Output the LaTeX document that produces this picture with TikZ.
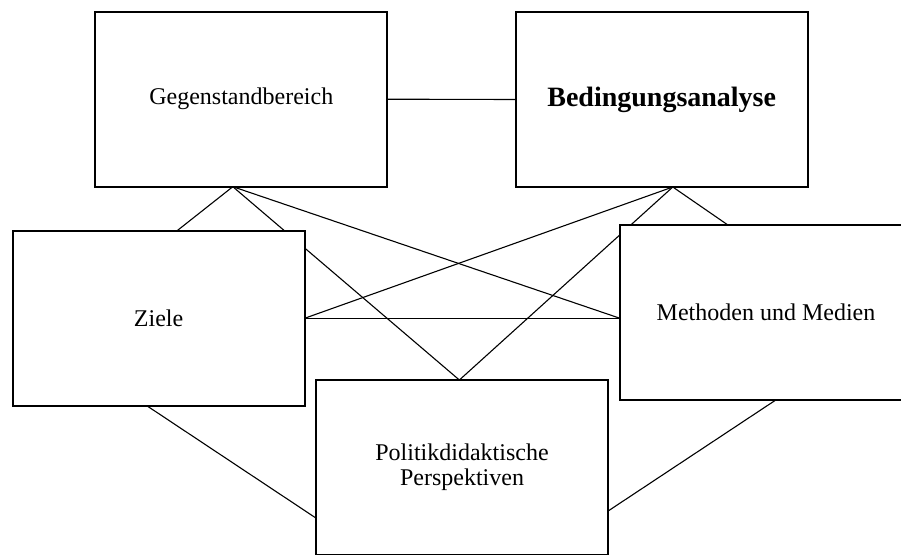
\documentclass[tikz,border=0pt]{standalone}
\usepackage{fontspec}
\setmainfont{Liberation Serif}
\usetikzlibrary{calc,backgrounds}
\begin{document}
\begin{tikzpicture}[x=1pt,y=-1pt,
  box/.style={draw=black,fill=white,line width=1.8pt,minimum width=292pt,minimum height=175pt,inner sep=0pt,outer sep=0pt,align=center,font=\fontsize{24}{25}\selectfont},
  link/.style={draw=black,line width=1.1pt}]
\useasboundingbox (0,0) rectangle (901,554);
\node[box] (g) at (241.3,99.2) {Gegenstandbereich};
\node[box,font=\fontsize{28}{30}\selectfont\bfseries] (b) at (661.7,99.5) {Bedingungsanalyse};
\node[box] (z) at (158.6,318.3) {Ziele};
\node[box] (m) at (766,312.4) {Methoden und Medien};
\node[box] (p) at (462,467.5) {Politikdidaktische\\Perspektiven};
\coordinate (ga) at ($(g.south west)!0.471!(g.south east)$);
\coordinate (ba) at ($(b.south west)!0.538!(b.south east)$);
\coordinate (zt1) at ($(z.north west)!0.563!(z.north east)$);
\coordinate (pt) at ($(p.north west)!0.491!(p.north east)$);
\coordinate (mw) at (z.east -| m.west);
\coordinate (mt) at ($(m.north west)!0.369!(m.north east)$);
\coordinate (zs) at ($(z.south west)!0.46!(z.south east)$);
\coordinate (pw) at ($(p.north west)!0.789!(p.south west)$);
\coordinate (ms) at ($(m.south west)!0.534!(m.south east)$);
\coordinate (pe) at ($(p.north east)!0.749!(p.south east)$);
\begin{scope}[on background layer]
\fill[white] (0,0) rectangle (901,554);
\draw[link] (g.east) -- (b.west);
\draw[link] (ga) -- (zt1);
\draw[link] (ga) -- (pt);
\draw[link] (ga) -- (mw);
\draw[link] (ba) -- (mt);
\draw[link] (ba) -- (pt);
\draw[link] (ba) -- (z.east);
\draw[link] (z.east) -- (mw);
\draw[link] (zs) -- (pw);
\draw[link] (ms) -- (pe);
\end{scope}
\end{tikzpicture}
\end{document}
